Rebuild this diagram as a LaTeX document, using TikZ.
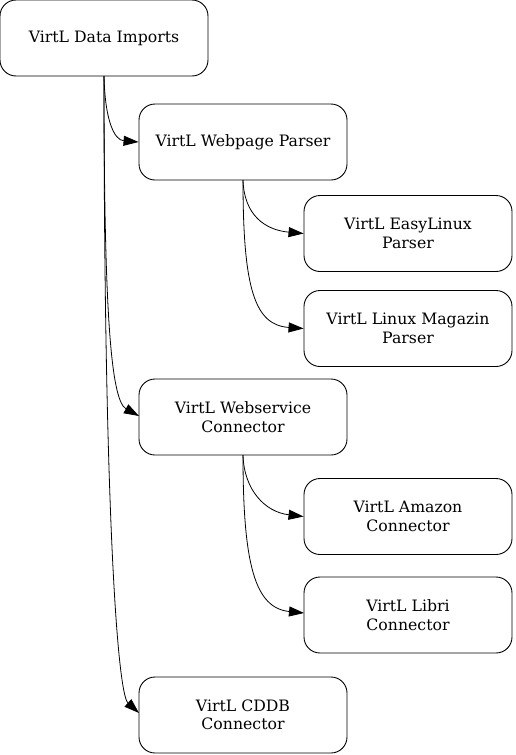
\documentclass[tikz,border=0pt]{standalone}
\usepackage{fontspec}
\setmainfont{DejaVu Serif}
\usetikzlibrary{arrows.meta}
\begin{document}
\begin{tikzpicture}[x=1pt,y=-1pt,
  box/.style={draw, line width=0.9pt, rounded corners=16pt, minimum width=208pt, minimum height=76pt, inner sep=0pt, align=center, font=\fontsize{15.7}{18.5}\selectfont},
  conn/.style={line width=0.8pt, -{Triangle[length=15pt,width=10pt]}}]
\useasboundingbox (0,0) rectangle (515,755);
\node[box] (imports) at (104,38) {VirtL Data Imports};
\node[box] (webpage) at (243,142) {VirtL Webpage Parser};
\node[box] (easy) at (408,233.5) {VirtL EasyLinux\\Parser};
\node[box] (magazin) at (408,328.5) {VirtL Linux Magazin\\Parser};
\node[box] (webservice) at (243,417) {VirtL Webservice\\Connector};
\node[box] (amazon) at (408,516.5) {VirtL Amazon\\Connector};
\node[box] (libri) at (408,615) {VirtL Libri\\Connector};
\node[box] (cddb) at (243,715) {VirtL CDDB\\Connector};
\coordinate (a0) at (104,76);
\coordinate (b0) at (243,180);
\coordinate (c0) at (243,455);
\draw[conn] (a0) .. controls (105,120) and (114,140) .. (webpage.west);
\draw[conn] (a0) .. controls (104,300) and (110,400) .. (139,416);
\draw[conn] (a0) .. controls (104,500) and (117,693) .. (139,713);
\draw[conn] (b0) .. controls (244,215) and (265,230) .. (easy.west);
\draw[conn] (b0) .. controls (243,290) and (255,325) .. (magazin.west);
\draw[conn] (c0) .. controls (244,490) and (265,512) .. (amazon.west);
\draw[conn] (c0) .. controls (243,565) and (255,608) .. (304,613);
\end{tikzpicture}
\end{document}
